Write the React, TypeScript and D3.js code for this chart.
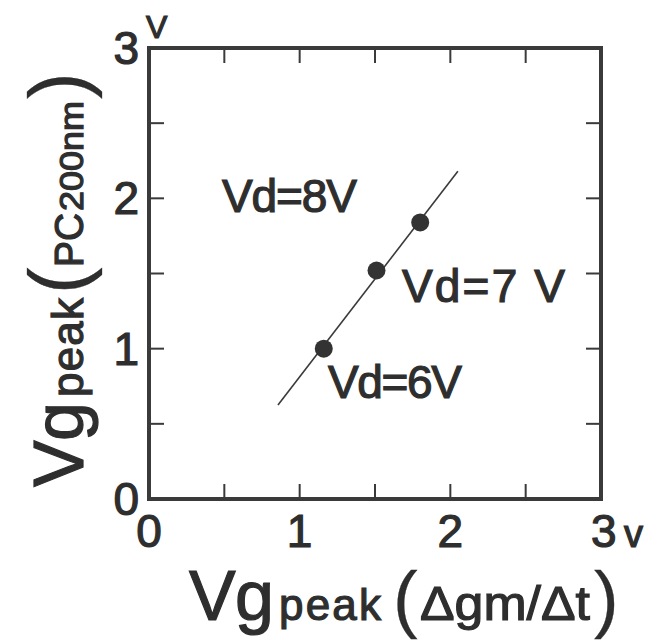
import React from "react";
import * as d3 from "d3";

// ---- data ----
const X_DOMAIN: [number, number] = [0, 3];
const Y_DOMAIN: [number, number] = [0, 3];
const VG_DGM_DT = [1.16, 1.51, 1.8]; // x values (V)
const VG_PC200 = [1.0, 1.52, 1.84]; // y values (V)
const VD_LABELS = ["Vd=6V", "Vd=7 V", "Vd=8V"];
const FIT_X = [0.856, 2.05];
const FIT_Y = [0.625, 2.18];
const MINOR_TICKS = [0.5, 1, 1.5, 2, 2.5];
const X_TICK_LABELS = ["0", "1", "2", "3"];
const Y_TICK_LABELS = ["0", "1", "2", "3"];

// ---- layout ----
const W = 664;
const H = 640;
const FONT = "'Liberation Sans', Arial, Helvetica, sans-serif";
const INK = "#2e2e2e";
const LABEL_LAYOUT = [
  { ax: 328, ay: 398, len: 134 },
  { ax: 402, ay: 302, len: 163 },
  { ax: 222, ay: 212, len: 135 },
];

export default function App() {
  const x = d3.scaleLinear().domain(X_DOMAIN).range([149, 601]);
  const y = d3.scaleLinear().domain(Y_DOMAIN).range([499, 48]);
  const tickLen = 15;

  const fitData = FIT_X.map((v, i) => [v, FIT_Y[i]] as [number, number]);
  const linePath = d3
    .line<[number, number]>()
    .x((d) => x(d[0]))
    .y((d) => y(d[1]))(fitData);

  const textStyle = {
    fontFamily: FONT,
    fill: INK,
    stroke: INK,
    strokeWidth: 1.2,
  } as React.CSSProperties;
  const parenStyle = { ...textStyle, strokeWidth: 0.3 } as React.CSSProperties;

  const x0 = x(0), x3 = x(3), y0 = y(0), y3 = y(3);

  return (
    <svg
      width={W}
      height={H}
      style={{ position: "absolute", left: 0, top: 0, background: "#fff" }}
    >
      <rect x={0} y={0} width={W} height={H} fill="#fff" />
      <g stroke="#3a3a3a" strokeWidth={2}>
        {MINOR_TICKS.map((t) => (
          <g key={"t" + t}>
            <line x1={x(t)} x2={x(t)} y1={y0} y2={y0 - tickLen} />
            <line x1={x(t)} x2={x(t)} y1={y3} y2={y3 + tickLen} />
            <line x1={x0} x2={x0 + tickLen} y1={y(t)} y2={y(t)} />
            <line x1={x3} x2={x3 - tickLen} y1={y(t)} y2={y(t)} />
          </g>
        ))}
      </g>
      <rect
        x={x0}
        y={y3}
        width={x3 - x0}
        height={y0 - y3}
        fill="none"
        stroke="#3a3a3a"
        strokeWidth={4}
      />
      <path d={linePath || ""} fill="none" stroke="#3a3a3a" strokeWidth={1.6} />
      {VG_DGM_DT.map((v, i) => (
        <circle key={"p" + i} cx={x(v)} cy={y(VG_PC200[i])} r={9} fill="#333" />
      ))}
      {VD_LABELS.map((s, i) => (
        <text
          key={"a" + i}
          x={LABEL_LAYOUT[i].ax}
          y={LABEL_LAYOUT[i].ay}
          fontSize={46}
          textLength={LABEL_LAYOUT[i].len}
          lengthAdjust="spacing"
          style={textStyle}
        >
          {s}
        </text>
      ))}
      {X_TICK_LABELS.map((s, i) => (
        <text
          key={"xl" + i}
          x={i === 3 ? 591 : x(+s)}
          y={547}
          fontSize={46}
          textAnchor={i === 3 ? "start" : "middle"}
          style={textStyle}
        >
          {s}
        </text>
      ))}
      <text x={624} y={547} fontSize={38} style={textStyle}>
        v
      </text>
      {Y_TICK_LABELS.map((s, i) => (
        <text
          key={"yl" + i}
          x={139}
          y={y(+s) + 16}
          fontSize={46}
          textAnchor="end"
          style={textStyle}
        >
          {s}
        </text>
      ))}
      <text x={146} y={38} fontSize={32} style={textStyle}>
        V
      </text>
      {/* x axis title */}
      <g>
        <text x={189} y={620} fontSize={70} style={textStyle}>V</text>
        <text x={235} y={620} fontSize={70} style={textStyle}>g</text>
        <text x={279} y={620} fontSize={44} textLength={102} lengthAdjust="spacing" style={textStyle}>peak</text>
        <text x={393} y={624} fontSize={74} style={parenStyle}>(</text>
        <text x={420} y={620} fontSize={48} textLength={170} lengthAdjust="spacingAndGlyphs" style={textStyle}>Δgm/Δt</text>
        <text x={594} y={624} fontSize={74} style={parenStyle}>)</text>
      </g>
      {/* y axis title */}
      <g transform="translate(83,487) rotate(-90)">
        <text x={0} y={0} fontSize={70} style={textStyle}>V</text>
        <text x={46} y={0} fontSize={70} style={textStyle}>g</text>
        <text x={90} y={0} fontSize={44} textLength={99} lengthAdjust="spacing" style={textStyle}>peak</text>
        <text x={193} y={2} fontSize={80} style={parenStyle}>(</text>
        <text x={220} y={0} fontSize={40} textLength={54} lengthAdjust="spacingAndGlyphs" style={textStyle}>PC</text>
        <text x={276} y={0} fontSize={34} textLength={110} lengthAdjust="spacingAndGlyphs" style={textStyle}>200nm</text>
        <text x={388} y={2} fontSize={80} style={parenStyle}>)</text>
      </g>
    </svg>
  );
}
